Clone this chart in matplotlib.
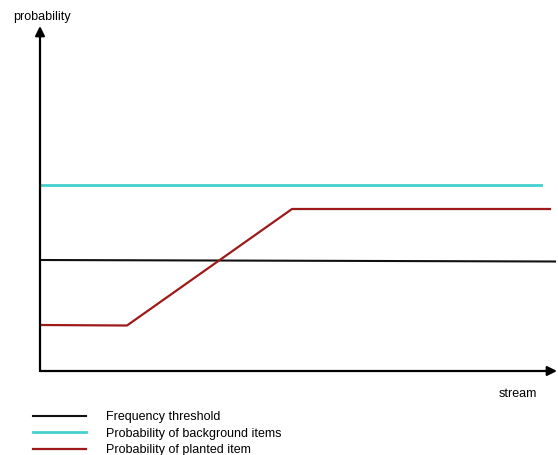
import matplotlib.pyplot as plt

plt.rcParams['font.family'] = ['Liberation Sans', 'DejaVu Sans']

# stream positions / probability levels (arbitrary units)
threshold_x = [0, 515]
threshold_y = [111, 109.5]
background_x = [0, 501]
background_y = [186, 186]
planted_x = [0, 87, 252, 510]
planted_y = [46, 45.5, 162, 162]

labels = ['Frequency threshold', 'Probability of background items',
          'Probability of planted item']
colors = ['#111111', '#45cfcf', '#9e1a1a']

W, H = 558, 455
fig = plt.figure(figsize=(W / 100, H / 100), dpi=100)
ax = fig.add_axes([40 / W, 84 / H, 517 / W, 345 / H])
ax.set_xlim(0, 517)
ax.set_ylim(0, 345)
ax.axis('off')

# axes as arrows
ax.annotate('', xy=(0, 1), xytext=(0, 0), xycoords='axes fraction',
            arrowprops=dict(arrowstyle='-|>', color='black', lw=1.6,
                            mutation_scale=14, shrinkA=0, shrinkB=0))
ax.annotate('', xy=(1, 0), xytext=(0, 0), xycoords='axes fraction',
            arrowprops=dict(arrowstyle='-|>', color='black', lw=1.6,
                            mutation_scale=14, shrinkA=0, shrinkB=0))

l1, = ax.plot(threshold_x, threshold_y, color=colors[0], lw=1.5)
l2, = ax.plot(background_x, background_y, color=colors[1], lw=2)
l3, = ax.plot(planted_x, planted_y, color=colors[2], lw=1.6)

fig.text(13 / W, 1 - 17 / H, 'probability', fontsize=9, va='center')
fig.text(499 / W, 1 - 394 / H, 'stream', fontsize=9, va='center')

fig.legend([l1, l2, l3], labels, loc='upper left',
           bbox_to_anchor=(33 / W, 1 - 411 / H), frameon=False,
           fontsize=9, handlelength=4.2, handletextpad=1.6,
           labelspacing=0.37, borderpad=0, borderaxespad=0)

fig.savefig('out.png', dpi=100)
